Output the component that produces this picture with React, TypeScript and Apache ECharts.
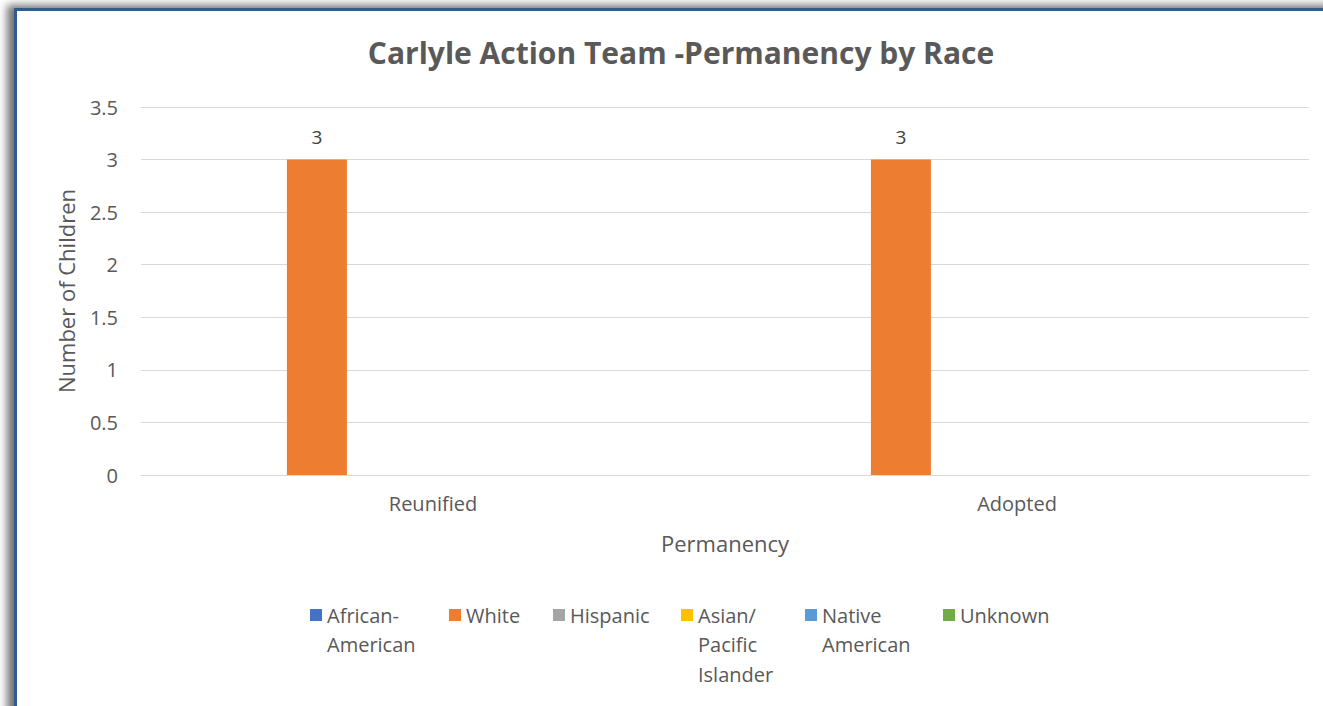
import React, { useEffect, useRef } from "react";
import * as echarts from "echarts";

const categories = ["Reunified", "Adopted"];
const seriesNames = ["African-American", "White", "Hispanic", "Asian/Pacific Islander", "Native American", "Unknown"];
const legendLabels = ["African-\nAmerican", "White", "Hispanic", "Asian/\nPacific\nIslander", "Native\nAmerican", "Unknown"];
const seriesColors = ["#4472C4", "#ED7D31", "#A5A5A5", "#FFC000", "#5B9BD5", "#70AD47"];
const africanAmerican = [0, 0];
const white = [3, 3];
const hispanic = [0, 0];
const asianPacific = [0, 0];
const nativeAmerican = [0, 0];
const unknown = [0, 0];
const seriesValues = [africanAmerican, white, hispanic, asianPacific, nativeAmerican, unknown];
const yTicks = { min: 0, max: 3.5, interval: 0.5 };

const FONT = "'Open Sans', 'Liberation Sans', sans-serif";
const TXT = "#595959";

export default function App() {
  const ref = useRef<HTMLDivElement>(null);
  useEffect(() => {
    if (!ref.current) return;
    const chart = echarts.init(ref.current, undefined, { renderer: "svg" });
    const L = 29.5;
    const legendX = [310, 449, 553, 681, 805, 943];
    const c = 615;
    const legends = seriesNames.map((name, i) => {
      const lines = legendLabels[i].split("\n");
      const n = lines.length;
      const padded = Array(n - 1).fill(" ").concat(lines).join("\n");
      return {
        left: legendX[i] - 5,
        top: c - ((2 * n - 1) * L) / 2 - 5,
        itemWidth: 12,
        itemHeight: 12,
        itemGap: 0,
        icon: "rect",
        selectedMode: false,
        formatter: () => padded,
        textStyle: {
          fontFamily: FONT,
          fontSize: 20,
          color: TXT,
          lineHeight: L,
        },
        data: [name],
      };
    });
    chart.setOption({
      animation: false,
      backgroundColor: "transparent",
      title: {
        text: "Carlyle Action Team -Permanency by Race",
        left: 676,
        top: 32,
        textAlign: "center",
        textStyle: { fontFamily: FONT, fontSize: 30, fontWeight: "bold", color: TXT },
      },
      legend: legends,
      grid: { left: 141, right: 14, top: 107, bottom: 231, containLabel: false },
      xAxis: {
        type: "category",
        data: categories,
        name: "Permanency",
        nameLocation: "middle",
        nameGap: 57,
        nameTextStyle: { fontFamily: FONT, fontSize: 22, color: TXT },
        axisLine: { lineStyle: { color: "#D9D9D9" } },
        axisTick: { show: false },
        axisLabel: { fontFamily: FONT, fontSize: 20, color: TXT, margin: 18 },
      },
      yAxis: {
        type: "value",
        min: yTicks.min,
        max: yTicks.max,
        interval: yTicks.interval,
        name: "Number of Children",
        nameLocation: "middle",
        nameGap: 64,
        nameTextStyle: { fontFamily: FONT, fontSize: 22, color: TXT },
        axisLine: { show: false },
        axisTick: { show: false },
        splitLine: { lineStyle: { color: "#D9D9D9" } },
        axisLabel: { fontFamily: FONT, fontSize: 20, color: TXT, margin: 23 },
      },
      series: seriesNames.map((name, i) => ({
        type: "bar",
        name,
        data: seriesValues[i],
        itemStyle: { color: seriesColors[i] },
        barWidth: 60,
        barGap: "29%",
        label: {
          show: true,
          position: "top",
          distance: 13,
          fontFamily: FONT,
          fontSize: 19,
          color: "#404040",
          formatter: (p: any) => (p.value > 0 ? String(p.value) : ""),
        },
      })),
    });
    return () => chart.dispose();
  }, []);
  return (
    <div style={{ position: "fixed", left: 0, top: 0, width: 1323, height: 706, overflow: "hidden", background: "#fff" }}>
      <div
        style={{
          position: "absolute",
          left: 14,
          top: 8,
          width: 1400,
          height: 800,
          background: "#fff",
          borderLeft: "3px solid #2F5B8E",
          borderTop: "3px solid #2F5B8E",
          boxShadow: "-7px -3px 8px rgba(0,0,0,0.55)",
        }}
      />
      <div ref={ref} style={{ position: "absolute", left: 0, top: 0, width: 1323, height: 706 }} />
    </div>
  );
}
